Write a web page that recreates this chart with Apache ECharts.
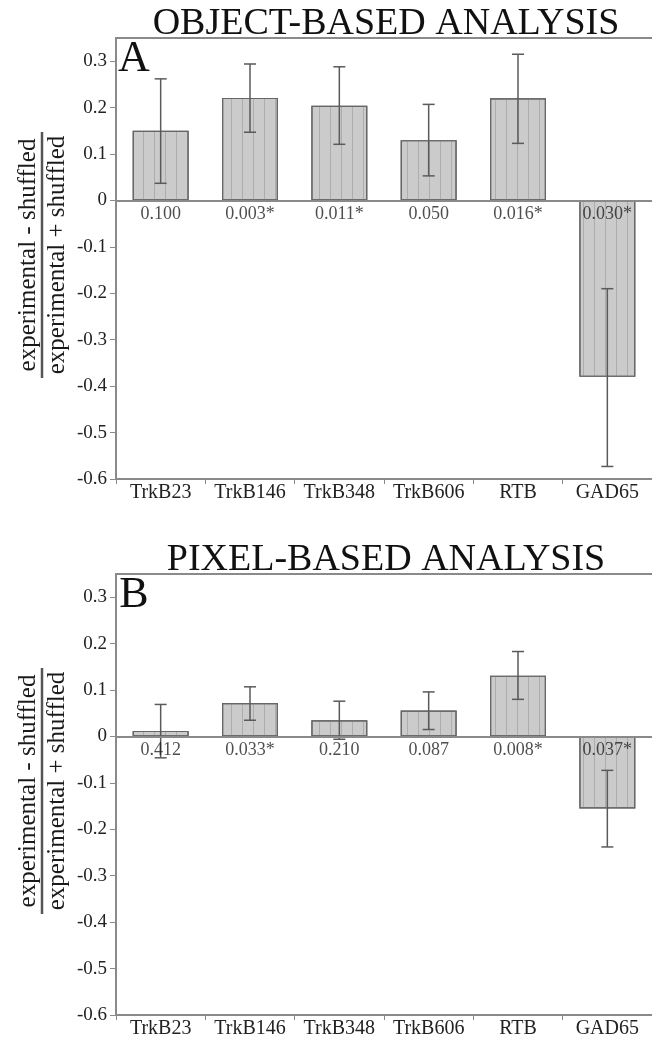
<!DOCTYPE html>
<html>
<head>
<meta charset="utf-8">
<script src="https://cdn.jsdelivr.net/npm/echarts@6/dist/echarts.min.js"></script>
<style>
html,body{margin:0;padding:0;background:#fff;}
#chart{width:652px;height:1040px;}
</style>
</head>
<body>
<div id="chart"></div>
<script>
// ---- data ----
const categories = ['TrkB23', 'TrkB146', 'TrkB348', 'TrkB606', 'RTB', 'GAD65'];

const objMean    = [0.150, 0.221, 0.204, 0.130, 0.220, -0.380];
const objErrLow  = [0.037, 0.147, 0.121, 0.053, 0.123, -0.573];
const objErrHigh = [0.262, 0.294, 0.288, 0.207, 0.315, -0.190];
const objP       = ['0.100', '0.003*', '0.011*', '0.050', '0.016*', '0.030*'];

const pixMean    = [0.012, 0.072, 0.035, 0.056, 0.131, -0.155];
const pixErrLow  = [-0.046, 0.035, -0.006, 0.015, 0.080, -0.238];
const pixErrHigh = [0.069, 0.107, 0.076, 0.096, 0.183, -0.073];
const pixP       = ['0.412', '0.033*', '0.210', '0.087', '0.008*', '0.037*'];

const yTickValues = [-0.6, -0.5, -0.4, -0.3, -0.2, -0.1, 0, 0.1, 0.2, 0.3];
const titles = ['OBJECT-BASED ANALYSIS', 'PIXEL-BASED ANALYSIS'];
const panelLetters = ['A', 'B'];
const yNumerator = 'experimental - shuffled';
const yDenominator = 'experimental + shuffled';

// ---- chart ----
const FONT = 'Liberation Serif, Times New Roman, serif';
const AXIS = '#8a8a8a';
const chart = echarts.init(document.getElementById('chart'), null, {renderer: 'canvas'});

const panelTops = [38, 574];
const grids = panelTops.map(t => ({left: 116, top: t, width: 542, height: 441, containLabel: false}));

const xAxes = [];
const yAxes = [];
grids.forEach((g, i) => {
  xAxes.push({
    type: 'category', gridIndex: i, data: categories, position: 'bottom',
    axisLine: {onZero: false, lineStyle: {color: AXIS, width: 2}},
    axisTick: {show: true, interval: 0, length: 5, lineStyle: {color: AXIS, width: 1}},
    axisLabel: {interval: 0, hideOverlap: false, color: '#222', fontFamily: FONT, fontSize: 20, margin: 4}
  });
  xAxes.push({
    type: 'category', gridIndex: i, data: categories, position: 'top',
    axisLine: {onZero: false, lineStyle: {color: AXIS, width: 2}},
    axisTick: {show: false}, axisLabel: {show: false}
  });
  yAxes.push({
    type: 'value', gridIndex: i, min: -0.6, max: 0.35, interval: 0.1,
    splitLine: {show: false},
    axisLine: {show: true, lineStyle: {color: AXIS, width: 2}},
    axisTick: {show: true, length: 6, customValues: yTickValues, lineStyle: {color: AXIS, width: 1}},
    axisLabel: {
      customValues: yTickValues,
      color: '#222', fontFamily: FONT, fontSize: 19, margin: 9,
      formatter: v => (Math.abs(v) < 1e-9 ? '0' : v.toFixed(1))
    }
  });
});

function errRender(params, api) {
  const x = api.value(0), lo = api.value(1), hi = api.value(2);
  const a = api.coord([x, lo]);
  const b = api.coord([x, hi]);
  const hw = 6;
  const st = {stroke: '#5a5a5a', lineWidth: 1.5};
  return {type: 'group', children: [
    {type: 'line', shape: {x1: a[0], y1: a[1], x2: b[0], y2: b[1]}, style: st},
    {type: 'line', shape: {x1: a[0] - hw, y1: a[1], x2: a[0] + hw, y2: a[1]}, style: st},
    {type: 'line', shape: {x1: b[0] - hw, y1: b[1], x2: b[0] + hw, y2: b[1]}, style: st}
  ]};
}

const decal = {
  symbol: 'rect', symbolSize: 1,
  dashArrayX: [1, 10], dashArrayY: [4, 0],
  color: 'rgba(150,150,150,0.55)', rotation: 0
};

const panels = [
  {mean: objMean, lo: objErrLow, hi: objErrHigh, p: objP},
  {mean: pixMean, lo: pixErrLow, hi: pixErrHigh, p: pixP}
];

const series = [];
panels.forEach((pd, i) => {
  series.push({
    type: 'bar', xAxisIndex: i * 2, yAxisIndex: i,
    data: pd.mean, barWidth: 56,
    itemStyle: {color: '#cbcbcb', borderColor: '#666', borderWidth: 1.2, decal: decal},
    markLine: {
      silent: true, symbol: 'none', label: {show: false},
      lineStyle: {color: AXIS, width: 2, type: 'solid'},
      data: [{yAxis: 0}]
    },
    z: 2
  });
  series.push({
    type: 'custom', xAxisIndex: i * 2, yAxisIndex: i,
    data: pd.mean.map((m, k) => [k, pd.lo[k], pd.hi[k]]),
    renderItem: errRender, z: 3, silent: true
  });
  series.push({
    type: 'scatter', xAxisIndex: i * 2, yAxisIndex: i,
    data: pd.p.map((s, k) => [k, 0]),
    symbolSize: 1, itemStyle: {color: 'rgba(0,0,0,0)'}, silent: true,
    label: {
      show: true, position: 'bottom', distance: 4,
      color: '#222', fontFamily: FONT, fontSize: 18,
      formatter: prm => pd.p[prm.dataIndex]
    },
    z: 4
  });
});

const graphic = [];
const titleY = [24, 560];
const letterY = [59, 595];
const labelY = [255, 791];
[0, 1].forEach(i => {
  graphic.push({
    type: 'text', x: 386, y: titleY[i],
    style: {text: titles[i], fontFamily: FONT, fontSize: 38, fill: '#111', align: 'center', verticalAlign: 'middle'}
  });
  graphic.push({
    type: 'text', x: 134, y: letterY[i],
    style: {text: panelLetters[i], fontFamily: FONT, fontSize: 44, fill: '#111', align: 'center', verticalAlign: 'middle'}
  });
  graphic.push({
    type: 'group', x: 42, y: labelY[i], rotation: Math.PI / 2,
    children: [
      {type: 'text', x: 0, y: -14, style: {text: yNumerator, fontFamily: FONT, fontSize: 25, fill: '#1a1a1a', align: 'center', verticalAlign: 'middle'}},
      {type: 'line', shape: {x1: -123, y1: 0, x2: 123, y2: 0}, style: {stroke: '#555', lineWidth: 2.5}},
      {type: 'text', x: 0, y: 15, style: {text: yDenominator, fontFamily: FONT, fontSize: 25, fill: '#1a1a1a', align: 'center', verticalAlign: 'middle'}}
    ]
  });
});

chart.setOption({
  animation: false,
  backgroundColor: '#fff',
  grid: grids,
  xAxis: xAxes,
  yAxis: yAxes,
  series: series,
  graphic: graphic
});
</script>
</body>
</html>
